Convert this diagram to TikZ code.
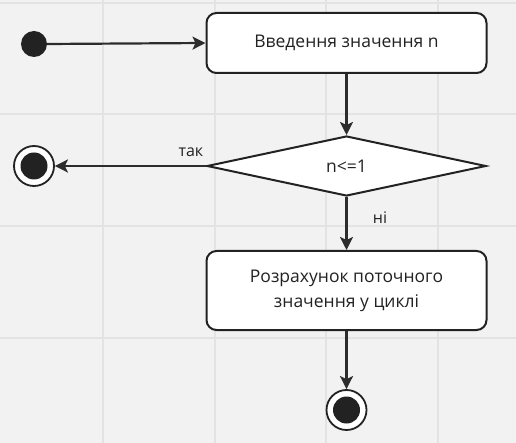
\documentclass[tikz,border=0pt]{standalone}
\usepackage{fontspec}
\setmainfont{Open Sans}
\usetikzlibrary{arrows.meta,shapes.geometric}
\definecolor{bgfill}{HTML}{F2F2F2}
\definecolor{gridline}{HTML}{E3E3E3}
\definecolor{ink}{HTML}{222222}
\definecolor{wire}{HTML}{2C2C2C}
\begin{document}
\begin{tikzpicture}[x=1pt,y=-1pt,
  every node/.style={font=\fontsize{17.5}{25}\selectfont, text=ink},
  action/.style={draw=ink, line width=2pt, fill=white, rounded corners=10pt,
    minimum width=280pt, inner sep=0pt, align=center},
  decision/.style={draw=ink, line width=2pt, fill=white, diamond,
    minimum width=279pt, minimum height=60pt, inner sep=0pt},
  startdot/.style={circle, fill=ink, minimum size=26pt, inner sep=0pt},
  enddot/.style={circle, draw=ink, line width=1.8pt, fill=white,
    minimum size=40pt, inner sep=0pt,
    path picture={\fill[ink] (path picture bounding box.center) circle (13.5pt);}},
  flow/.style={draw=wire, line width=2.2pt,
    -{Stealth[length=13pt,width=13pt,inset=3pt]}},
  guard/.style={font=\fontsize{16}{18}\selectfont}
]
  % canvas and grid
  \fill[bgfill] (0,0) rectangle (516,443);
  \useasboundingbox (0,0) rectangle (516,443);
  \foreach \gx in {103,215,326,438}
    \draw[gridline, line width=1.2pt] (\gx,0) -- (\gx,443);
  \foreach \gy in {3,114,226,338}
    \draw[gridline, line width=1.2pt] (0,\gy) -- (516,\gy);

  % nodes
  \node[startdot] (start) at (34,44) {};
  \node[action, minimum height=60pt] (input) at (346.5,43) {Введення значення n};
  \node[decision] (check) at (346.5,166) {n<=1};
  \node[enddot] (stopA) at (34,166) {};
  \node[action, minimum height=79pt] (calc) at (346.5,290.5)
    {Розрахунок поточного\\значення у циклі};
  \node[enddot] (stopB) at (346.5,410) {};

  % connectors
  \draw[flow] (start.east) -- (input.west);
  \draw[flow] (input.south) -- (check.north);
  \draw[flow] (check.west) -- node[guard, above, pos=0.1, yshift=5pt] {так} (stopA.east);
  \draw[flow] (check.south) -- node[guard, right, pos=0.38, xshift=22pt] {ні} (calc.north);
  \draw[flow] (calc.south) -- (stopB.north);
\end{tikzpicture}
\end{document}
